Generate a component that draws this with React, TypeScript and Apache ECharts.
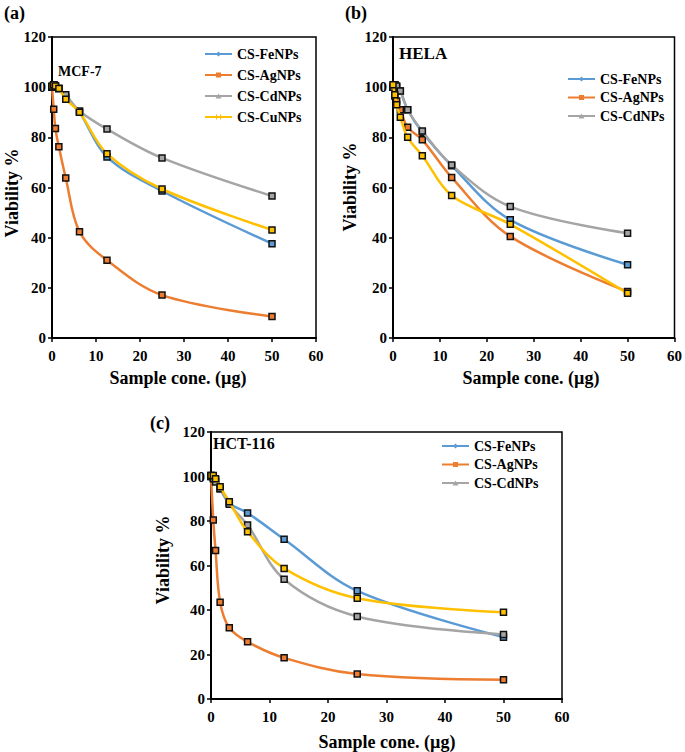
import React, { useEffect, useRef } from "react";
import * as echarts from "echarts";

const conc = [0, 0.39, 0.78, 1.56, 3.125, 6.25, 12.5, 25, 50];

const seriesNames = ["CS-FeNPs", "CS-AgNPs", "CS-CdNPs", "CS-CuNPs"];
const colors = ["#5B9BD5", "#ED7D31", "#A5A5A5", "#FFC000"];

// (a) MCF-7
const mcfFe = [100, 101, 100.5, 99.5, 96, 90, 72.2, 58.6, 37.6];
const mcfAg = [100, 91.2, 83.5, 76.2, 63.8, 42.4, 31, 17.1, 8.6];
const mcfCd = [100, 101, 100.5, 99.5, 97, 90.5, 83.3, 71.8, 56.6];
const mcfCu = [100.5, 101, 100.5, 99.5, 95.2, 90, 73.5, 59.4, 43.1];

// (b) HELA
const helaFe = [100, 101, 100, 98.5, 91, 82, 68.7, 47.1, 29.2];
const helaAg = [100, 96.5, 94.5, 91, 84, 79, 64, 40.5, 18.5];
const helaCd = [100, 101, 100.5, 98.5, 91, 82.5, 69, 52.4, 41.8];
const helaCu = [101, 97, 93, 88, 80, 72.7, 56.8, 45.3, 17.8];

// (c) HCT-116
const hctFe = [100, 99.5, 98.5, 94.5, 88, 83.6, 71.8, 48.6, 27.8];
const hctAg = [100.5, 80.4, 66.7, 43.5, 32, 25.7, 18.5, 11.2, 8.6];
const hctCd = [100, 99, 97.5, 94.5, 87.5, 78.2, 53.8, 37.1, 29];
const hctCu = [100.5, 100.5, 99, 95.4, 88.6, 75.2, 58.7, 45.3, 39];

const xTicks = { min: 0, max: 60, interval: 10 };
const yTicks = { min: 0, max: 120, interval: 20 };

const panelLabels = ["(a)", "(b)", "(c)"];
const cellLines = ["MCF-7", "HELA", "HCT-116"];
const xTitle = "Sample cone. (µg)";
const yTitle = "Viability %";

const FONT = "'Liberation Serif', 'Times New Roman', serif";

const lineBar = "M0 2.9H27V5.1H0Z";
const legendIcons = [
  "path://" + lineBar + "M13.5 1.5L16 4L13.5 6.5L11 4Z M0 0M27 8",
  "path://" + lineBar + "M11 1.5H16V6.5H11Z M0 0M27 8",
  "path://" + lineBar + "M13.5 1.5L16.5 6.5H10.5Z M0 0M27 8",
  "path://" + lineBar + "M11 1.5H12V6.5H11Z M15 1.5H16V6.5H15Z M0 0M27 8",
];

export default function App() {
  const ref = useRef<HTMLDivElement>(null);

  useEffect(() => {
    if (!ref.current) return;
    const chart = echarts.init(ref.current, undefined, { renderer: "svg" });

    const panels = [
      [mcfFe, mcfAg, mcfCd, mcfCu],
      [helaFe, helaAg, helaCd, helaCu],
      [hctFe, hctAg, hctCd, hctCu],
    ];

    const grids = [
      { left: 52, top: 37, width: 264, height: 301 },
      { left: 393, top: 37, width: 286, height: 301 },
      { left: 211, top: 432, width: 351, height: 267 },
    ];

    const series: any[] = [];
    panels.forEach((vals, p) => {
      vals.forEach((arr, s) => {
        series.push({
          name: seriesNames[s],
          type: "line",
          xAxisIndex: p,
          yAxisIndex: p,
          smooth: 0.35,
          symbol: "rect",
          symbolSize: 6,
          lineStyle: { color: colors[s], width: 2.5 },
          itemStyle: { color: colors[s], borderColor: "#111", borderWidth: 1.5 },
          data: conc.map((c, i) => [c, arr[i]]),
          z: 2 + s,
        });
      });
    });

    const axisCommon = {
      axisLine: { show: true, onZero: false, lineStyle: { color: "#000", width: 2 } },
      axisTick: { show: true, inside: false, length: 4, lineStyle: { color: "#000", width: 1.5 } },
      splitLine: { show: false },
      axisLabel: { color: "#000", fontFamily: FONT, fontWeight: "bold", fontSize: 15 },
    };

    const legendDefs = [
      { left: 205, top: 47, gap: 7, count: 4 },
      { left: 568, top: 72, gap: 4.5, count: 3 },
      { left: 442, top: 439, gap: 4.5, count: 3 },
    ];

    const graphics: any[] = [];
    const labelPos = [
      [4, 13],
      [345, 13],
      [150, 423],
    ];
    panelLabels.forEach((t, i) => {
      graphics.push({
        type: "text",
        x: labelPos[i][0],
        y: labelPos[i][1],
        style: { text: t, font: `bold 18px ${FONT}`, fill: "#000", textVerticalAlign: "middle" },
      });
    });
    const cellPos = [
      [58, 71, 14],
      [399, 53, 17],
      [213, 443, 16],
    ];
    cellLines.forEach((t, i) => {
      graphics.push({
        type: "text",
        x: cellPos[i][0],
        y: cellPos[i][1],
        z: 10,
        style: { text: t, font: `bold ${cellPos[i][2]}px ${FONT}`, fill: "#000", textVerticalAlign: "middle" },
      });
    });
    const xNamePos = [
      [178, 378],
      [531, 378],
      [387, 742],
    ];
    const yNamePos = [
      [12, 193],
      [350, 187],
      [163, 560],
    ];
    for (let i = 0; i < 3; i++) {
      graphics.push({
        type: "text",
        x: xNamePos[i][0],
        y: xNamePos[i][1],
        style: { text: xTitle, font: `bold 18px ${FONT}`, fill: "#000", textAlign: "center", textVerticalAlign: "middle" },
      });
      graphics.push({
        type: "text",
        x: yNamePos[i][0],
        y: yNamePos[i][1],
        rotation: Math.PI / 2,
        style: { text: yTitle, font: `bold 18px ${FONT}`, fill: "#000", textAlign: "center", textVerticalAlign: "middle" },
      });
    }

    chart.setOption({
      animation: false,
      backgroundColor: "#fff",
      grid: grids.map((g) => ({ ...g, show: true, borderColor: "#000", borderWidth: 1.5, backgroundColor: "transparent" })),
      xAxis: grids.map((_, i) => ({
        type: "value",
        gridIndex: i,
        ...xTicks,
        ...axisCommon,
        axisLabel: { ...axisCommon.axisLabel, margin: 10 },
      })),
      yAxis: grids.map((_, i) => ({
        type: "value",
        gridIndex: i,
        ...yTicks,
        ...axisCommon,
        axisLabel: { ...axisCommon.axisLabel, margin: 6 },
      })),
      legend: legendDefs.map((d) => ({
        orient: "vertical",
        left: d.left,
        top: d.top,
        itemGap: d.gap,
        itemWidth: 27,
        itemHeight: 8,
        padding: 0,
        selectedMode: false,
        itemStyle: { borderWidth: 0 },
        textStyle: { color: "#000", fontFamily: FONT, fontWeight: "bold", fontSize: 14, padding: [0, 0, 0, 0] },
        data: seriesNames.slice(0, d.count).map((n, k) => ({ name: n, icon: legendIcons[k] })),
      })),
      graphic: graphics,
      series,
    });

    return () => chart.dispose();
  }, []);

  return (
    <div
      ref={ref}
      style={{ position: "fixed", left: 0, top: 0, width: 685, height: 752, background: "#fff" }}
    />
  );
}
